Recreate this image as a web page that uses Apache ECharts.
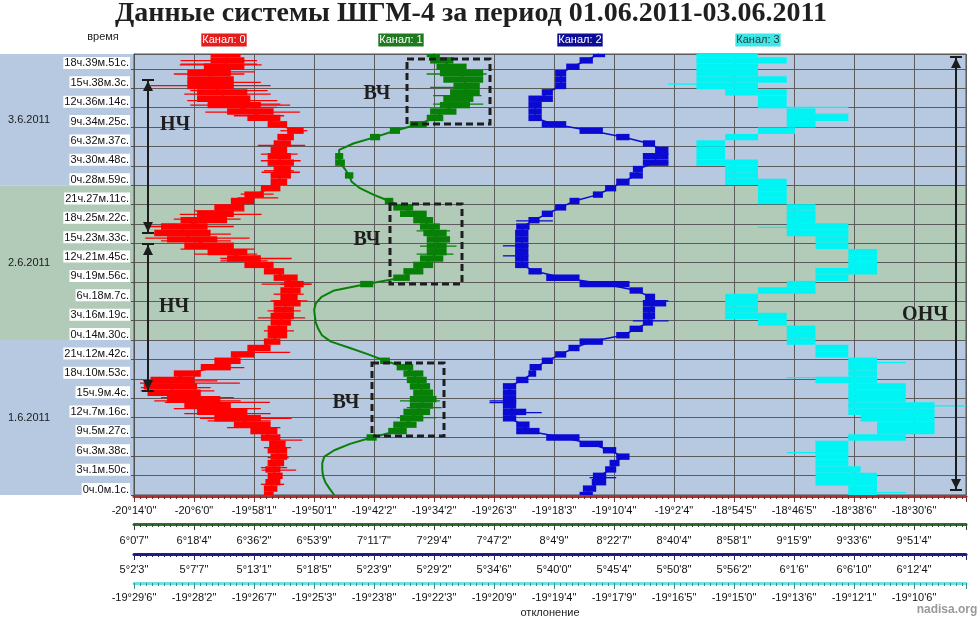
<!DOCTYPE html>
<html><head><meta charset="utf-8">
<script src="https://cdn.jsdelivr.net/npm/echarts@6/dist/echarts.min.js"></script>
<style>html,body{margin:0;padding:0;background:#fff}#c{width:980px;height:619px}</style>
</head><body><div id="c"></div>
<script>
// ---------- time axis (hours since 01.06.2011 0:00:01) ----------
const TICK_H = 10908.64 / 3600;          // 3ч.1м.48.6с. between time labels
const Y_MAX_H = 69.0;
const Y_TICKS = ['0ч.0м.1с.','3ч.1м.50с.','6ч.3м.38с.','9ч.5м.27с.','12ч.7м.16с.','15ч.9м.4с.','18ч.10м.53с.','21ч.12м.42с.',
 '0ч.14м.30с.','3ч.16м.19с.','6ч.18м.7с.','9ч.19м.56с.','12ч.21м.45с.','15ч.23м.33с.','18ч.25м.22с.','21ч.27м.11с.',
 '0ч.28м.59с.','3ч.30м.48с.','6ч.32м.37с.','9ч.34м.25с.','12ч.36м.14с.','15ч.38м.3с.','18ч.39м.51с.'];
const DAY_LABELS = ['1.6.2011','2.6.2011','3.6.2011'];
const DAY_FIRST_TICK = [0, 8, 16];

// ---------- deviation axes (arc minutes) ----------
const RED_TICKS = ['-20°14\'0"','-20°6\'0"','-19°58\'1"','-19°50\'1"','-19°42\'2"','-19°34\'2"','-19°26\'3"','-19°18\'3"','-19°10\'4"','-19°2\'4"','-18°54\'5"','-18°46\'5"','-18°38\'6"','-18°30\'6"'];
const GREEN_TICKS = ['6°0\'7"','6°18\'4"','6°36\'2"','6°53\'9"','7°11\'7"','7°29\'4"','7°47\'2"','8°4\'9"','8°22\'7"','8°40\'4"','8°58\'1"','9°15\'9"','9°33\'6"','9°51\'4"'];
const BLUE_TICKS = ['5°2\'3"','5°7\'7"','5°13\'1"','5°18\'5"','5°23\'9"','5°29\'2"','5°34\'6"','5°40\'0"','5°45\'4"','5°50\'8"','5°56\'2"','6°1\'6"','6°6\'10"','6°12\'4"'];
const CYAN_TICKS = ['-19°29\'6"','-19°28\'2"','-19°26\'7"','-19°25\'3"','-19°23\'8"','-19°22\'3"','-19°20\'9"','-19°19\'4"','-19°17\'9"','-19°16\'5"','-19°15\'0"','-19°13\'6"','-19°12\'1"','-19°10\'6"'];
const RED_START = -1214.0, RED_STEP = 7.992;
const GREEN_START = 360.7, GREEN_STEP = 17.75;
const BLUE_START = 302.3, BLUE_STEP = 5.4;
const CYAN_START = -1169.6, CYAN_STEP = 1.4615;
const X_DIVS = 13.867;

// ---------- channel values (arc minutes), one row per hour ----------
const TIME_H = [0,1,2,3,4,5,6,7,8,9,10,11,12,13,14,15,16,17,18,19,20,21,22,23,24,25,26,27,28,29,30,31,32,33,34,35,36,37,38,39,40,41,42,43,44,45,46,47,48,49,50,51,52,53,54,55,56,57,58,59,60,61,62,63,64,65,66,67,68,69];

const RED_LO = [-1196.7,-1196.7,-1196.5,-1196.2,-1196.5,-1196.2,-1195.8,-1196.2,-1196.0,-1197.1,
 -1198.5,-1200.7,-1203.3,-1205.6,-1207.3,-1209.6,-1212.2,-1212.7,-1211.8,-1208.7,
 -1205.1,-1203.3,-1201.1,-1198.9,-1196.7,-1196.2,-1196.2,-1195.8,-1195.8,-1195.4,
 -1195.4,-1194.5,-1194.5,-1194.0,-1195.4,-1196.7,-1199.3,-1201.6,-1204.2,-1207.3,
 -1209.6,-1211.3,-1210.4,-1207.8,-1205.6,-1203.3,-1201.1,-1199.3,-1197.1,-1195.8,
 -1195.8,-1195.4,-1196.2,-1196.2,-1195.8,-1195.4,-1194.9,-1193.6,-1196.2,-1198.9,
 -1201.6,-1204.2,-1205.6,-1205.6,-1206.9,-1206.9,-1206.9,-1204.7,-1203.8,-1203.8];
const RED_HI = [-1195.4,-1194.9,-1194.5,-1194.2,-1194.5,-1194.0,-1193.6,-1193.6,-1193.8,-1194.5,
 -1194.9,-1195.8,-1197.1,-1198.9,-1201.1,-1202.5,-1205.1,-1205.6,-1206.0,-1205.1,
 -1201.1,-1199.8,-1198.0,-1195.8,-1194.5,-1193.6,-1193.6,-1193.1,-1192.7,-1192.7,
 -1191.8,-1192.2,-1191.8,-1191.4,-1192.2,-1194.0,-1195.4,-1197.1,-1198.9,-1200.7,
 -1202.9,-1203.8,-1204.2,-1201.6,-1200.7,-1199.3,-1198.0,-1196.7,-1194.5,-1193.6,
 -1193.1,-1193.1,-1192.7,-1193.1,-1193.6,-1193.1,-1192.7,-1191.4,-1193.6,-1194.5,
 -1195.4,-1197.1,-1198.5,-1198.9,-1200.7,-1200.7,-1201.1,-1199.3,-1199.3,-1199.8];
const RED_SPIKES = [[1.67,-1197.1,-1194.0],[3.90,-1197.0,-1192.4],[4.28,-1197.1,-1193.6],[5.85,-1196.2,-1193.4],[7.41,-1196.7,-1193.1],
 [8.60,-1197.0,-1191.6],[10.54,-1201.6,-1194.5],[11.59,-1204.2,-1195.8],[12.00,-1205.2,-1193.0],[12.73,-1207.3,-1195.8],
 [13.52,-1208.7,-1197.1],[14.50,-1209.9,-1195.9],[14.72,-1211.3,-1199.8],[15.24,-1210.4,-1200.7],[16.28,-1213.1,-1203.3],
 [16.81,-1213.1,-1203.8],[17.50,-1213.2,-1199.9],[17.85,-1212.2,-1202.9],[19.94,-1205.1,-1199.3],[22.30,-1199.9,-1193.2],
 [25.68,-1196.7,-1192.7],[27.70,-1197.5,-1191.2],[28.81,-1196.2,-1191.8],[30.38,-1195.8,-1190.9],[31.42,-1195.4,-1191.4],
 [32.98,-1194.5,-1190.5],[33.00,-1197.0,-1190.3],[36.64,-1202.5,-1196.2],[37.00,-1202.5,-1193.0],[37.68,-1206.0,-1197.6],
 [38.47,-1207.8,-1198.0],[39.77,-1210.4,-1201.1],[40.20,-1212.5,-1198.6],[40.81,-1211.3,-1201.1],[42.01,-1212.2,-1200.7],
 [43.16,-1208.7,-1199.8],[43.90,-1207.9,-1197.0],[44.47,-1206.0,-1199.3],[46.50,-1200.2,-1194.8],[47.08,-1199.8,-1195.4],
 [50.50,-1197.0,-1191.9],[50.73,-1196.7,-1192.7],[52.30,-1197.1,-1191.8],[53.34,-1197.1,-1192.2],[54.70,-1197.5,-1191.2],
 [56.99,-1194.5,-1190.9],[59.34,-1200.7,-1194.0],[59.90,-1204.5,-1191.9],[60.65,-1202.9,-1194.9],[61.00,-1206.5,-1193.2],
 [61.17,-1203.8,-1194.5],[61.69,-1206.9,-1194.9],[62.73,-1207.3,-1195.8],[63.26,-1206.5,-1196.2],[64.04,-1211.8,-1195.8],
 [64.56,-1206.9,-1197.1],[65.87,-1208.7,-1199.3],[66.20,-1206.5,-1197.9],[67.30,-1207.9,-1197.0],[67.43,-1207.8,-1197.6],
 [67.95,-1207.8,-1197.6]];

const GREEN_LO = [419.7,418.2,416.9,416.3,416.1,416.1,416.3,419.2,423.6,429.5,
 435.9,437.4,439.4,440.4,442.3,442.3,443.3,442.3,441.4,440.4,
 438.4,433.5,429.0,423.6,418.2,415.9,414.9,414.2,413.9,413.7,
 414.1,415.7,419.2,427.6,437.4,440.4,443.3,445.3,447.3,447.3,
 447.3,446.3,445.3,443.3,439.4,437.4,434.9,430.5,426.6,424.1,
 423.1,422.1,420.2,420.2,420.7,424.6,430.5,436.4,442.3,447.3,
 448.3,451.2,452.2,454.2,455.2,452.2,451.2,450.2,448.3,447.3];
const GREEN_HI = [420.2,418.9,417.7,416.9,416.7,416.7,417.7,420.7,425.6,432.5,
 441.4,444.3,446.3,448.3,449.2,450.2,449.2,448.3,447.3,446.3,
 443.3,436.4,431.0,425.6,419.7,416.7,415.5,414.7,414.5,414.3,
 414.9,416.7,420.7,431.5,442.3,446.3,449.2,452.2,453.2,453.2,
 454.2,453.2,451.2,449.2,447.3,443.3,437.4,432.5,428.5,426.1,
 425.6,424.1,423.1,422.6,422.1,426.6,433.5,439.4,447.3,452.2,
 456.1,460.1,461.1,463.0,463.0,464.0,464.0,459.1,455.2,451.2];
const GREEN_SPIKES = [[12.11,438.4,450.2],[13.68,441.4,451.7],[14.72,439.4,451.2],[37.68,444.3,455.2],[38.94,445.3,456.1],
 [41.33,444.3,454.2],[61.17,449.2,464.0],[62.50,449.2,463.5],[63.78,448.3,462.5],[65.87,447.3,465.0]];

const BLUE_LO = [342.4,342.7,343.5,343.6,344.7,345.1,345.7,344.5,342.4,339.4,
 336.7,336.7,335.5,335.5,335.5,335.5,335.5,335.5,336.7,337.8,
 337.9,339.0,340.2,341.4,342.4,345.7,346.9,348.1,348.1,348.1,
 348.1,348.3,346.9,342.4,339.4,337.8,336.6,336.6,336.6,336.6,
 336.6,336.6,336.7,337.8,339.0,340.2,341.5,343.6,344.7,345.7,
 346.9,347.2,348.1,348.1,349.2,348.1,345.7,342.4,339.0,337.8,
 337.8,337.8,337.8,339.0,340.2,340.2,340.2,341.2,342.4,343.6];
const BLUE_HI = [343.6,343.9,344.8,344.8,345.7,346.0,346.9,345.7,344.5,342.4,
 338.8,337.9,336.7,337.6,336.7,336.7,336.7,336.7,337.8,338.5,
 339.0,340.0,341.2,342.4,344.5,346.9,348.1,349.0,349.2,349.2,
 350.2,349.2,348.1,346.9,342.4,339.0,337.8,337.8,337.8,337.8,
 337.8,337.8,337.9,338.8,340.0,341.2,342.4,344.5,345.7,346.9,
 348.1,348.1,350.4,350.4,350.4,349.2,346.9,344.5,341.2,339.0,
 339.0,339.0,340.0,340.0,341.2,341.2,341.2,342.4,343.6,344.7];
const BLUE_SPIKES = [[2.71,343.3,345.7],[12.89,336.7,339.0],[14.46,334.3,336.7],[14.72,334.3,336.7],[27.24,347.2,350.4],
 [30.38,348.1,350.4],[37.42,335.5,337.8],[38.99,335.5,337.8],[42.90,336.7,340.0],[52.03,348.1,350.4],[53.34,348.1,350.4]];

const CYAN_LO = [-1152.2,-1152.2,-1153.0,-1153.0,-1153.0,-1153.0,-1153.0,-1153.0,-1153.0,-1152.2,
 -1151.5,-1151.5,-1151.9,-1152.2,-1152.2,-1152.2,-1152.2,-1152.2,-1153.0,-1152.2,
 -1152.2,-1152.2,-1153.0,-1153.0,-1153.7,-1153.7,-1153.7,-1154.4,-1155.2,-1155.2,
 -1155.2,-1155.2,-1154.4,-1153.7,-1153.0,-1153.0,-1152.2,-1152.2,-1152.2,-1153.0,
 -1153.0,-1153.7,-1153.7,-1153.7,-1153.7,-1153.7,-1154.4,-1154.4,-1154.4,-1155.2,
 -1155.2,-1155.2,-1155.9,-1155.9,-1155.9,-1155.9,-1155.2,-1154.4,-1153.7,-1153.7,
 -1153.7,-1154.4,-1154.4,-1155.2,-1155.9,-1155.9,-1155.9,-1155.9,-1155.9,-1155.9];
const CYAN_HI = [-1151.5,-1151.5,-1151.5,-1151.5,-1151.9,-1152.2,-1152.2,-1152.2,-1152.2,-1150.8,
 -1150.1,-1150.1,-1150.1,-1150.1,-1150.1,-1150.8,-1150.8,-1150.8,-1151.5,-1151.5,
 -1151.5,-1151.5,-1152.2,-1152.2,-1153.0,-1153.0,-1153.0,-1153.7,-1153.7,-1154.4,
 -1154.4,-1154.4,-1153.0,-1153.0,-1152.2,-1151.5,-1151.5,-1151.5,-1151.5,-1152.2,
 -1152.2,-1152.2,-1152.2,-1153.0,-1153.0,-1153.0,-1153.7,-1153.7,-1153.7,-1153.7,
 -1154.4,-1154.4,-1154.4,-1155.2,-1155.2,-1155.2,-1154.4,-1153.5,-1153.0,-1152.2,
 -1153.0,-1153.7,-1153.7,-1153.7,-1154.4,-1153.7,-1154.4,-1154.4,-1153.7,-1154.4];
const CYAN_SPIKES = [[0.37,-1152.2,-1150.8],[6.63,-1153.7,-1152.2],[13.94,-1152.2,-1149.3],[18.37,-1153.7,-1151.5],
 [20.72,-1152.2,-1150.8],[41.86,-1154.4,-1152.2],[59.60,-1153.7,-1152.2],[60.65,-1153.7,-1152.2],[64.30,-1156.6,-1154.4],[68.20,-1155.9,-1153.7]];

// ---------- build ----------
const ROW_HALF = (TIME_H[1] - TIME_H[0]) / 2;
const SANS = '"Liberation Sans", Arial, sans-serif';
const SERIF = '"Liberation Serif", "DejaVu Serif", serif';

function tickFmt(labels, step) {
  return function (v) {
    const k = v / step, r = Math.round(k);
    if (Math.abs(k - r) > 1e-3 || r < 0 || r >= labels.length) return '';
    return labels[r];
  };
}
function makeX(ticks, step, color, tickColor, offset, margin, split, name) {
  return {
    type: 'value', position: 'bottom', offset: offset, min: 0, max: step * X_DIVS, interval: step,
    axisLine: { show: true, onZero: false, lineStyle: { color: color, width: 3 } },
    axisTick: { show: true, length: 6, lineStyle: { color: tickColor, width: 1 } },
    minorTick: { show: true, splitNumber: 10, length: 3, lineStyle: { color: tickColor, width: 1 } },
    axisLabel: { formatter: tickFmt(ticks, step), color: '#111', fontSize: 11, fontFamily: SANS, margin: margin, showMaxLabel: false, hideOverlap: false },
    splitLine: { show: split, lineStyle: { color: '#5c5c5c', width: 1 } },
    minorSplitLine: { show: false },
    name: name || '', nameLocation: 'middle', nameGap: 24,
    nameTextStyle: { color: '#222', fontSize: 11, fontFamily: SANS }
  };
}
function rowsData(lo, hi, start) { return TIME_H.map((t, i) => [lo[i] - start, hi[i] - start, t]); }
function spikeData(sp, start) { return sp.map(s => [s[1] - start, s[2] - start, s[0]]); }
function midData(lo, hi, start) { return TIME_H.map((t, i) => [(lo[i] + hi[i]) / 2 - start, t]); }

// minPx: rows narrower than this are left to the connecting trace line only
function rowsSeries(axis, data, color, minPx) {
  return { type: 'custom', xAxisIndex: axis, yAxisIndex: 0, data: data, encode: { x: [0, 1], y: 2 }, clip: true, silent: true, z: 3,
    renderItem: function (params, api) {
      const a = api.coord([api.value(0), api.value(2) + ROW_HALF]);
      const b = api.coord([api.value(1), api.value(2) - ROW_HALF]);
      const w = b[0] - a[0];
      if (minPx && w < minPx) return null;
      return { type: 'rect', shape: { x: a[0], y: a[1], width: Math.max(w, 1.5), height: b[1] - a[1] }, style: { fill: color } };
    } };
}
function spikeSeries(axis, data, color) {
  return { type: 'custom', xAxisIndex: axis, yAxisIndex: 0, data: data, encode: { x: [0, 1], y: 2 }, clip: true, silent: true, z: 3,
    renderItem: function (params, api) {
      const a = api.coord([api.value(0), api.value(2)]);
      const b = api.coord([api.value(1), api.value(2)]);
      return { type: 'line', shape: { x1: a[0], y1: a[1], x2: b[0], y2: b[1] }, style: { stroke: color, lineWidth: 1.3 } };
    } };
}
function midSeries(axis, data, color, width) {
  return { type: 'line', xAxisIndex: axis, yAxisIndex: 0, data: data, symbol: 'none', silent: true, z: 3, clip: true,
    lineStyle: { color: color, width: width || 1.5 } };
}

const BAND_COLORS = ['#b6c9e1', '#b2cbb9', '#b6c9e1'];
const bandData = DAY_FIRST_TICK.map((k, i) => [0, k * TICK_H, i + 1 < DAY_FIRST_TICK.length ? DAY_FIRST_TICK[i + 1] * TICK_H : Y_MAX_H, i]);

const C_RED = '#ff0000', C_GREEN = '#088008', C_BLUE = '#0a0ad2', C_CYAN = '#00f4f4';

function dblArrow(x, yTop, yBot) {
  const c = '#1c1c1c';
  return [
    { type: 'line', z: 100, shape: { x1: x, y1: yTop, x2: x, y2: yBot }, style: { stroke: c, lineWidth: 2 } },
    { type: 'line', z: 100, shape: { x1: x - 6, y1: yTop, x2: x + 6, y2: yTop }, style: { stroke: c, lineWidth: 2 } },
    { type: 'line', z: 100, shape: { x1: x - 6, y1: yBot, x2: x + 6, y2: yBot }, style: { stroke: c, lineWidth: 2 } },
    { type: 'polygon', z: 100, shape: { points: [[x, yTop + 1], [x - 5, yTop + 11], [x + 5, yTop + 11]] }, style: { fill: c } },
    { type: 'polygon', z: 100, shape: { points: [[x, yBot - 1], [x - 5, yBot - 11], [x + 5, yBot - 11]] }, style: { fill: c } }
  ];
}
function dashBox(x, y, w, h) {
  return { type: 'rect', z: 100, shape: { x: x, y: y, width: w, height: h }, style: { fill: 'none', stroke: '#1e1e1e', lineWidth: 3, lineDash: [7, 4] } };
}
function bigText(t, x, y) {
  return { type: 'text', z: 100, style: { text: t, x: x, y: y, align: 'center', verticalAlign: 'middle', font: 'bold 20px ' + SERIF, fill: '#1e1e1e' } };
}
function chanLabel(t, x, bg, fg) {
  return { type: 'text', z: 100, style: { text: t, x: x, y: 40, align: 'center', verticalAlign: 'middle', fontSize: 11, fontFamily: SANS, fill: fg, backgroundColor: bg, padding: [1, 1, 1, 1] } };
}

const chart = echarts.init(document.getElementById('c'), null, { renderer: 'canvas', width: 980, height: 619 });
chart.setOption({
  animation: false,
  backgroundColor: '#ffffff',
  grid: { left: 134, top: 54, width: 832, height: 441, show: true, borderColor: '#505050', borderWidth: 1, backgroundColor: 'transparent', containLabel: false, outerBoundsMode: 'none' },
  xAxis: [
    makeX(RED_TICKS, RED_STEP, '#b23232', '#7a2a2a', 1, 9, true),
    makeX(GREEN_TICKS, GREEN_STEP, '#2a702a', '#2a4a2a', 29, 11, false),
    makeX(BLUE_TICKS, BLUE_STEP, '#1c1c8c', '#22226a', 59, 10, false),
    makeX(CYAN_TICKS, CYAN_STEP, '#6fe0e0', '#3a8a8a', 88, 9, false, 'отклонение')
  ],
  yAxis: {
    type: 'value', min: 0, max: Y_MAX_H, interval: TICK_H,
    axisLine: { show: true, lineStyle: { color: '#505050', width: 1 } },
    axisTick: { show: true, length: 3, lineStyle: { color: '#505050' } },
    axisLabel: { formatter: tickFmt(Y_TICKS, TICK_H), color: '#111', fontSize: 11, fontFamily: SANS, margin: 4,
      backgroundColor: '#ffffff', padding: [1, 1, 0, 1], verticalAlign: 'bottom', showMaxLabel: false, hideOverlap: false },
    splitLine: { show: true, lineStyle: { color: '#5c5c5c', width: 1 } }
  },
  series: [
    { type: 'custom', xAxisIndex: 0, yAxisIndex: 0, data: bandData, encode: { x: 0, y: [1, 2] }, clip: false, silent: true, z: -5,
      renderItem: function (params, api) {
        const i = api.value(3);
        const p0 = api.coord([0, api.value(1)]), p1 = api.coord([0, api.value(2)]);
        const cs = params.coordSys;
        return { type: 'group', children: [
          { type: 'rect', shape: { x: 0, y: p1[1], width: cs.x + cs.width, height: p0[1] - p1[1] }, style: { fill: BAND_COLORS[i] } },
          { type: 'text', style: { text: DAY_LABELS[i], x: 29, y: (p0[1] + p1[1]) / 2, align: 'center', verticalAlign: 'middle', fontSize: 11, fontFamily: SANS, fill: '#1a1a1a' } }
        ] };
      } },
    rowsSeries(0, rowsData(RED_LO, RED_HI, RED_START), C_RED),
    midSeries(0, midData(RED_LO, RED_HI, RED_START), C_RED),
    spikeSeries(0, spikeData(RED_SPIKES, RED_START), C_RED),
    rowsSeries(1, rowsData(GREEN_LO, GREEN_HI, GREEN_START), C_GREEN, 7),
    midSeries(1, midData(GREEN_LO, GREEN_HI, GREEN_START), C_GREEN, 2),
    spikeSeries(1, spikeData(GREEN_SPIKES, GREEN_START), C_GREEN),
    rowsSeries(2, rowsData(BLUE_LO, BLUE_HI, BLUE_START), C_BLUE),
    midSeries(2, midData(BLUE_LO, BLUE_HI, BLUE_START), C_BLUE),
    spikeSeries(2, spikeData(BLUE_SPIKES, BLUE_START), C_BLUE),
    rowsSeries(3, rowsData(CYAN_LO, CYAN_HI, CYAN_START), C_CYAN),
    spikeSeries(3, spikeData(CYAN_SPIKES, CYAN_START), C_CYAN)
  ],
  graphic: [
    { type: 'text', z: 100, style: { text: 'Данные системы ШГМ-4 за период 01.06.2011-03.06.2011', x: 471, y: 14, align: 'center', verticalAlign: 'middle', font: 'bold 28px ' + SERIF, fill: '#1f1f1f' } },
    { type: 'text', z: 100, style: { text: 'время', x: 103, y: 37, align: 'center', verticalAlign: 'middle', fontSize: 11, fontFamily: SANS, fill: '#222' } },
    chanLabel('Канал: 0', 224, '#e41c1c', '#ffffff'),
    chanLabel('Канал: 1', 401, '#1f7a1f', '#ffffff'),
    chanLabel('Канал: 2', 580, '#0c0c96', '#ffffff'),
    chanLabel('Канал: 3', 758, '#3ee6e6', '#2a3a3a'),
    { type: 'text', z: 100, style: { text: 'nadisa.org', x: 947, y: 610, align: 'center', verticalAlign: 'middle', font: 'bold 12px ' + SANS, fill: '#9a9a9a' } },
    ...dblArrow(148, 80, 233),
    ...dblArrow(148, 244, 391),
    ...dblArrow(956, 57, 490),
    dashBox(407, 59, 83, 65),
    dashBox(390, 204, 72, 80),
    dashBox(372, 363, 72, 73),
    bigText('НЧ', 175, 125),
    bigText('НЧ', 174, 307),
    bigText('ВЧ', 377, 94),
    bigText('ВЧ', 367, 240),
    bigText('ВЧ', 346, 403),
    bigText('ОНЧ', 925, 315)
  ]
});
</script>
</body></html>
